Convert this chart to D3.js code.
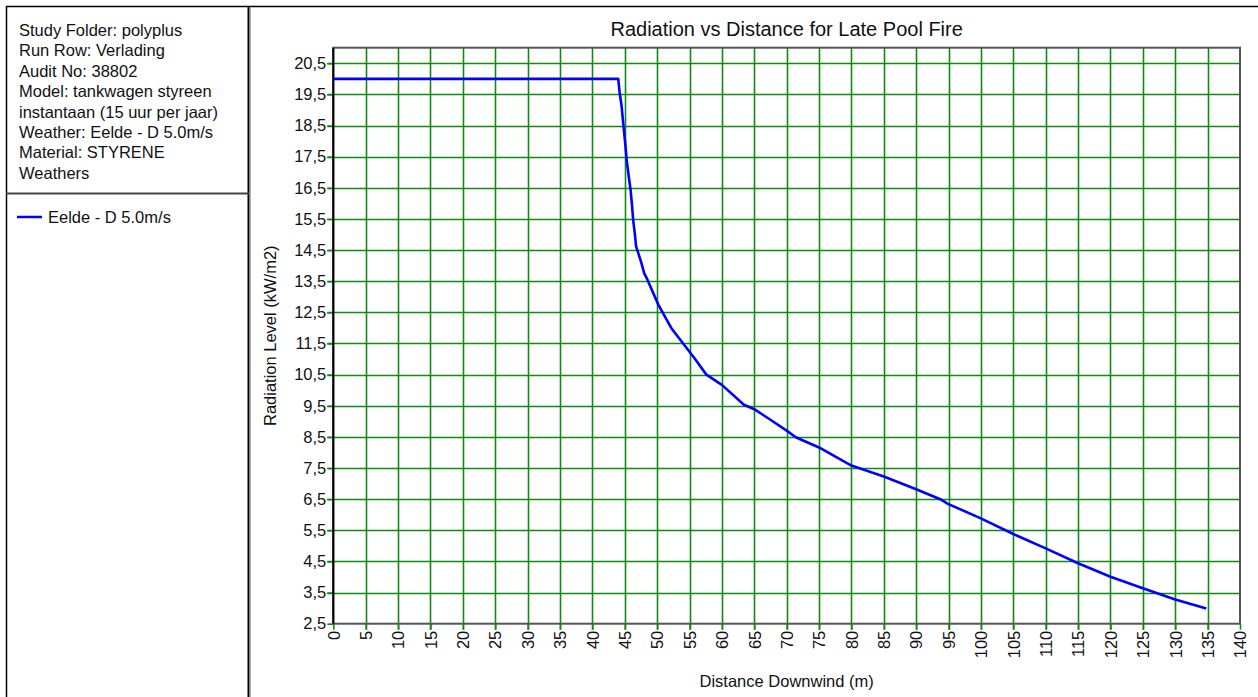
<!DOCTYPE html>
<html>
<head>
<meta charset="utf-8">
<script src="https://cdn.jsdelivr.net/npm/d3@7"></script>
<style>
  body { margin: 0; background: #fff; }
  svg { display: block; font-family: "Liberation Sans", Arial, sans-serif; }
</style>
</head>
<body>
<svg id="chart" width="1258" height="697"></svg>
<script>
// info panel + legend
const infoLines = [
  'Study Folder: polyplus',
  'Run Row: Verlading',
  'Audit No: 38802',
  'Model: tankwagen styreen',
  'instantaan (15 uur per jaar)',
  'Weather: Eelde - D 5.0m/s',
  'Material: STYRENE',
  'Weathers'
];
const seriesName = 'Eelde - D 5.0m/s';

// chart texts
const chartTitle = 'Radiation vs Distance for Late Pool Fire';
const xTitle = 'Distance Downwind (m)';
const yTitle = 'Radiation Level (kW/m2)';

// ticks
const xTicks = d3.range(0, 141, 5);
const yTicks = [2.5, 3.5, 4.5, 5.5, 6.5, 7.5, 8.5, 9.5, 10.5, 11.5, 12.5, 13.5, 14.5, 15.5, 16.5, 17.5, 18.5, 19.5, 20.5];

// series
const distance = [0, 44.0, 44.2, 44.5, 44.8, 45.1, 45.3, 45.6, 45.9, 46.1, 46.3, 46.55, 46.75, 47.0, 47.5, 48.0, 48.5,
  50.2, 52.2, 55.8, 57.6, 60, 63.4, 65, 67.5, 70, 71.4, 75, 80, 85, 90, 93.9, 94.9, 99.9, 105, 110, 115, 120, 125, 130, 134.8];
const radiation = [20.0, 20.0, 19.57, 19.15, 18.5, 17.87, 17.39, 16.9, 16.43, 16.0, 15.47, 15.04, 14.62, 14.46, 14.14, 13.76, 13.55,
  12.74, 11.99, 11.02, 10.5, 10.17, 9.53, 9.39, 9.05, 8.70, 8.49, 8.16, 7.58, 7.23, 6.82, 6.48, 6.35, 5.89, 5.38, 4.92, 4.44, 4.01, 3.64, 3.28, 2.99];

const svg = d3.select('#chart');

// plot box
const pLeft = 333.3, pRight = 1240, pTop = 47.7, pBottom = 623.7;

const x = d3.scaleLinear().domain([0, 140]).range([pLeft, pRight]);
const y = d3.scaleLinear().domain([2.5, 21.0]).range([pBottom, pTop]);

const commaFmt = d3.formatLocale({decimal: ',', thousands: '.', grouping: [3], currency: ['', '']}).format('.1f');

// ---- frames
svg.append('line').attr('x1', 6).attr('x2', 1258).attr('y1', 6.5).attr('y2', 6.5)
  .attr('stroke', '#000').attr('stroke-width', 1.5);
svg.append('line').attr('x1', 6.5).attr('x2', 6.5).attr('y1', 6).attr('y2', 697)
  .attr('stroke', '#000').attr('stroke-width', 1.5);
svg.append('line').attr('x1', 248.5).attr('x2', 248.5).attr('y1', 6).attr('y2', 697)
  .attr('stroke', '#000').attr('stroke-width', 2);
svg.append('line').attr('x1', 250.5).attr('x2', 250.5).attr('y1', 7).attr('y2', 697)
  .attr('stroke', '#b0b0b0').attr('stroke-width', 1);
svg.append('line').attr('x1', 6).attr('x2', 249).attr('y1', 193.5).attr('y2', 193.5)
  .attr('stroke', '#444').attr('stroke-width', 2);

// ---- info text
svg.append('g').selectAll('text').data(infoLines).join('text')
  .attr('x', 19)
  .attr('y', (d, i) => 36 + i * 20.4)
  .attr('font-size', 16.5)
  .attr('fill', '#111')
  .text(d => d);

// ---- legend
svg.append('line').attr('x1', 17).attr('x2', 42).attr('y1', 217).attr('y2', 217)
  .attr('stroke', '#0000ff').attr('stroke-width', 2.5);
svg.append('text').attr('x', 48).attr('y', 223).attr('font-size', 16.5).attr('fill', '#111').text(seriesName);

// ---- grid
const grid = svg.append('g');
grid.selectAll('line.v').data(xTicks.filter(t => t > 0 && t < 140)).join('line')
  .attr('class', 'v')
  .attr('x1', d => Math.round(x(d)) + 0.5).attr('x2', d => Math.round(x(d)) + 0.5)
  .attr('y1', pTop).attr('y2', pBottom + 6)
  .attr('stroke', '#118a11').attr('stroke-width', 1.6);
grid.selectAll('line.h').data(yTicks.filter(t => t > 2.5)).join('line')
  .attr('class', 'h')
  .attr('x1', pLeft - 6).attr('x2', pRight)
  .attr('y1', d => Math.round(y(d)) + 0.5).attr('y2', d => Math.round(y(d)) + 0.5)
  .attr('stroke', '#118a11').attr('stroke-width', 1.6);

// ---- axes
const yAxis = svg.append('g')
  .attr('transform', `translate(${pLeft},0)`)
  .call(d3.axisLeft(y).tickValues(yTicks).tickSize(6).tickPadding(1).tickFormat(commaFmt));
yAxis.select('.domain').remove();
yAxis.selectAll('.tick line').attr('stroke', '#118a11').attr('stroke-width', 1.6);
yAxis.selectAll('.tick text').attr('font-size', 16.5).attr('fill', '#111')
  .attr('font-family', '"Liberation Sans", Arial, sans-serif');

const xAxis = svg.append('g')
  .attr('transform', `translate(0,${pBottom})`)
  .call(d3.axisBottom(x).tickValues(xTicks).tickSize(6).tickFormat(d3.format('d')));
xAxis.select('.domain').remove();
xAxis.selectAll('.tick line').attr('stroke', '#118a11').attr('stroke-width', 1.6);
xAxis.selectAll('.tick text')
  .attr('font-size', 16.5).attr('fill', '#111')
  .attr('font-family', '"Liberation Sans", Arial, sans-serif')
  .attr('transform', 'rotate(-90)')
  .attr('text-anchor', 'end')
  .attr('x', -7).attr('y', 0).attr('dy', '0.35em');

// plot border
svg.append('rect')
  .attr('x', pLeft).attr('y', pTop).attr('width', pRight - pLeft).attr('height', pBottom - pTop)
  .attr('fill', 'none').attr('stroke', '#555').attr('stroke-width', 2);
svg.append('line').attr('x1', pLeft).attr('x2', pLeft).attr('y1', pTop).attr('y2', pBottom)
  .attr('stroke', '#000').attr('stroke-width', 2);

// ---- series
const line = d3.line().x((d, i) => x(distance[i])).y((d, i) => y(radiation[i]));
svg.append('path')
  .datum(distance)
  .attr('d', line)
  .attr('fill', 'none')
  .attr('stroke', '#0000ff')
  .attr('stroke-width', 2.6)
  .attr('stroke-linejoin', 'round');

// ---- titles
svg.append('text').attr('x', (pLeft + pRight) / 2).attr('y', 36)
  .attr('text-anchor', 'middle').attr('font-size', 20).attr('fill', '#111').text(chartTitle);
svg.append('text').attr('x', (pLeft + pRight) / 2).attr('y', 687)
  .attr('text-anchor', 'middle').attr('font-size', 16.5).attr('fill', '#111').text(xTitle);
svg.append('text')
  .attr('transform', `translate(276,${(pTop + pBottom) / 2}) rotate(-90)`)
  .attr('text-anchor', 'middle').attr('font-size', 16.5).attr('fill', '#111').text(yTitle);
</script>
</body>
</html>
